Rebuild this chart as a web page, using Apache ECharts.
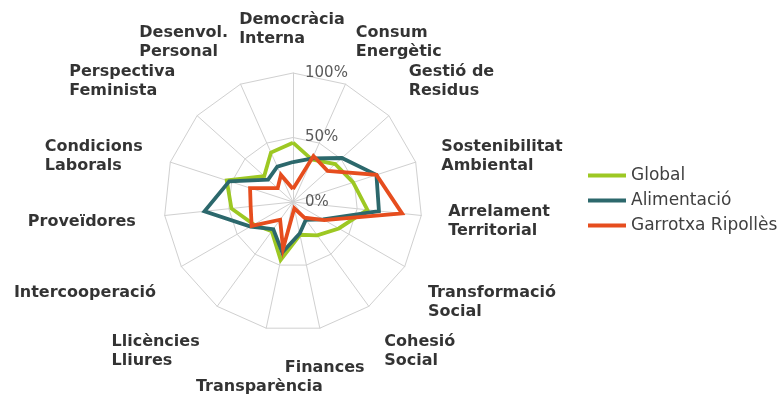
<!DOCTYPE html>
<html><head><meta charset="utf-8">
<script src="https://cdn.jsdelivr.net/npm/echarts@6/dist/echarts.min.js"></script>
<style>html,body{margin:0;padding:0;background:#fff}#c{width:783px;height:400px}</style>
</head><body><div id="c"></div>
<script>
// ---- data (clockwise from top) ----
const categories = ['Democràcia\nInterna','Consum\nEnergètic','Gestió de\nResidus','Sostenibilitat\nAmbiental','Arrelament\nTerritorial','Transformació\nSocial','Cohesió\nSocial','Finances','Transparència','Llicències\nLliures','Intercooperació','Proveïdores','Condicions\nLaborals','Perspectiva\nFeminista','Desenvol.\nPersonal'];
const seriesNames = ['Global','Alimentació','Garrotxa Ripollès'];
const globalValues = [46, 36, 44, 49, 58, 41, 32, 26, 46, 28, 35, 48, 54, 30, 42];
const alimentacioValues = [31, 37, 51, 68, 67, 27, 17, 25, 40, 26, 38, 69, 52, 26, 30];
const garrotxaValues = [10, 39, 36, 68, 85, 28, 15, 5, 37, 17, 37, 33, 35, 16, 23];
const tickValues = [0, 50, 100];

// ---- layout / style ----
const colors = ['#9dc823', '#2c686c', '#e64d1e'];
const CENTER = [293, 202];
const NAME_CENTER = [292, 205];
const RADIUS = 129;
const NAME_RADIUS = 157;
const n = categories.length;
const step = 360 / n;
const maxValue = tickValues[tickValues.length - 1];
const tickInterval = tickValues[1] - tickValues[0];

// ECharts radar lays indicators counter-clockwise: reorder
const ccw = arr => arr.map((_, k) => arr[(n - k) % n]);
const indicator = ccw(categories).map(name => ({ name: name, min: 0, max: maxValue }));

const allValues = [globalValues, alimentacioValues, garrotxaValues];
const radarSeries = allValues.map((vals, i) => ({
  name: seriesNames[i],
  type: 'radar',
  radarIndex: 0,
  symbol: 'none',
  silent: true,
  lineStyle: { color: colors[i], width: 3.8, join: 'miter' },
  itemStyle: { color: colors[i] },
  data: [{ name: seriesNames[i], value: ccw(vals) }]
}));

// axis-name labels placed through a polar coordinate system
let prevBottomCenter = false;
const nameData = categories.map((name, j) => {
  const a = j * step;
  const rad = (90 - a) * Math.PI / 180;
  const c = Math.cos(rad), s = Math.sin(rad);
  const align = Math.abs(c) < 0.3 ? 'center' : (c > 0 ? 'left' : 'right');
  const vAlign = Math.abs(s) < 0.45 ? 'middle' : (s > 0 ? 'bottom' : 'top');
  const bottomCenter = align === 'center' && vAlign === 'top';
  const pad = (bottomCenter && prevBottomCenter) ? [19, 0, 0, 0] : 0;
  prevBottomCenter = bottomCenter;
  return { name: name, value: [maxValue, a], label: { align: align, verticalAlign: vAlign, padding: pad } };
});

const chart = echarts.init(document.getElementById('c'), null, { renderer: 'canvas' });
chart.setOption({
  animation: false,
  backgroundColor: '#ffffff',
  color: colors,
  radar: {
    center: CENTER,
    radius: RADIUS,
    startAngle: 90,
    shape: 'polygon',
    splitNumber: maxValue / tickInterval,
    indicator: indicator,
    axisName: { show: false },
    axisLine: { lineStyle: { color: '#d0d0d0', width: 1 } },
    splitLine: { lineStyle: { color: '#d0d0d0', width: 1 } },
    splitArea: { show: false },
    axisTick: { show: false },
    axisLabel: { show: false }
  },
  polar: [
    { center: CENTER, radius: RADIUS },
    { center: NAME_CENTER, radius: NAME_RADIUS }
  ],
  angleAxis: [
    { polarIndex: 0, type: 'value', min: 0, max: 360, startAngle: 90, show: false },
    { polarIndex: 1, type: 'value', min: 0, max: 360, startAngle: 90, clockwise: true, show: false }
  ],
  radiusAxis: [
    {
      polarIndex: 0, type: 'value', min: tickValues[0], max: maxValue, interval: tickInterval,
      axisLine: { show: false }, axisTick: { show: false }, splitLine: { show: false }, splitArea: { show: false },
      axisLabel: { margin: -12, align: 'left', verticalAlign: 'middle', formatter: v => v + '%', color: '#5a5a5a', fontSize: 15, fontFamily: 'DejaVu Sans' },
      z: 5
    },
    {
      polarIndex: 1, type: 'value', min: 0, max: maxValue, show: false
    }
  ],
  legend: {
    orient: 'vertical',
    left: 583,
    top: 162,
    icon: 'rect',
    itemWidth: 38,
    itemHeight: 4,
    itemGap: 8,
    selectedMode: false,
    data: seriesNames,
    textStyle: { fontFamily: 'DejaVu Sans', fontSize: 17, color: '#404040', lineHeight: 17 }
  },
  series: radarSeries.concat([{
    type: 'scatter',
    coordinateSystem: 'polar',
    polarIndex: 1,
    symbol: 'circle',
    symbolSize: 0.1,
    silent: true,
    itemStyle: { color: 'rgba(0,0,0,0)' },
    label: {
      show: true,
      position: 'inside',
      color: '#000',
      formatter: p => p.name.split('\n').map(l => '{a|' + l + '}').join('\n'),
      rich: { a: { align: 'left', fontFamily: 'DejaVu Sans', fontWeight: 'bold', fontSize: 16, lineHeight: 19, color: '#000' } }
    },
    data: nameData
  }])
});
</script>
</body></html>
